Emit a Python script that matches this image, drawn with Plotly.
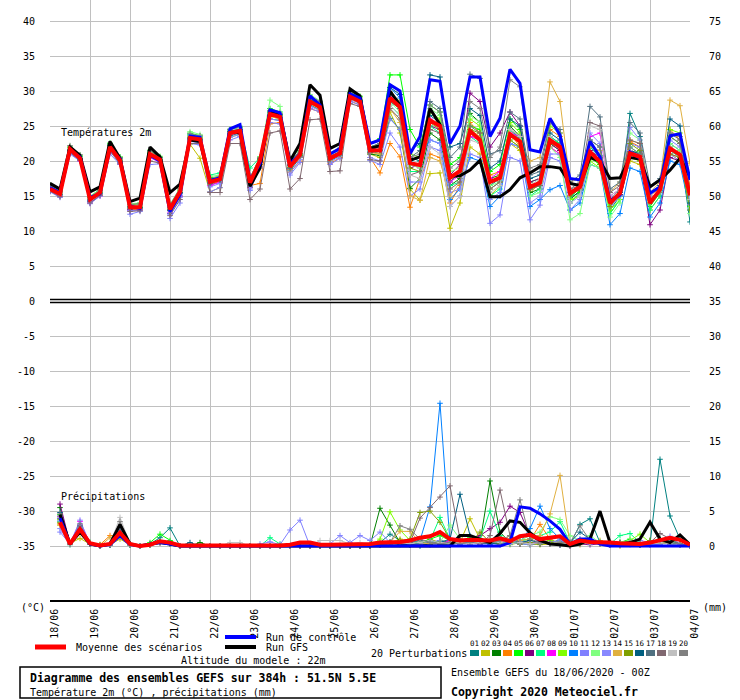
import plotly.graph_objects as go

# time axis (hours since 18/06 00Z), temperature every 6h, precip = 6h totals
HOURS_T = list(range(0, 385, 6))
HOURS_P = list(range(6, 385, 6))
DAY_LABELS = ["18/06", "19/06", "20/06", "21/06", "22/06", "23/06", "24/06", "25/06", "26/06",
              "27/06", "28/06", "29/06", "30/06", "01/07", "02/07", "03/07", "04/07"]

# --- 2m temperature (°C) ---
TEMP_MEAN = [16.0, 15.3, 21.7, 20.4, 14.5, 15.5, 22.0, 20.1, 13.4, 13.4, 21.0, 20.2, 13.1, 15.6, 23.3, 23.1,
             17.0, 17.4, 24.0, 24.3, 16.9, 20.1, 26.7, 26.3, 19.2, 20.9, 28.5, 27.7, 20.4, 21.1, 29.2, 28.5,
             21.5, 21.5, 29.0, 27.7, 19.7, 19.4, 25.8, 25.0, 17.6, 18.6, 24.3, 23.0, 17.0, 17.6, 23.8, 22.8,
             16.3, 16.9, 23.0, 22.0, 15.4, 16.3, 21.3, 19.9, 14.0, 15.4, 21.1, 20.6, 14.0, 15.9, 21.8, 20.9, 15.1]
TEMP_CTRL = [16.2, 15.5, 21.5, 20.6, 14.8, 15.3, 21.8, 20.3, 13.6, 13.2, 20.8, 20.0, 12.8, 15.2, 23.6, 23.4,
             17.2, 17.6, 24.6, 25.2, 17.3, 19.6, 27.3, 26.9, 19.6, 21.0, 29.3, 28.0, 21.0, 21.8, 29.6, 29.0,
             22.5, 23.0, 30.9, 30.0, 21.0, 23.5, 31.6, 31.4, 22.5, 25.0, 32.0, 32.0, 23.5, 26.1, 33.1, 31.1,
             21.6, 21.3, 26.1, 23.7, 17.5, 17.3, 22.8, 20.6, 14.4, 15.1, 21.3, 20.4, 15.4, 16.3, 23.6, 23.9, 17.3]
TEMP_GFS = [16.8, 16.0, 22.0, 20.8, 15.6, 16.3, 22.8, 20.4, 14.2, 14.7, 22.0, 20.6, 15.5, 16.7, 23.0, 22.8,
            17.2, 17.5, 24.2, 24.0, 16.4, 19.0, 27.2, 26.5, 20.0, 22.5, 30.9, 29.4, 21.8, 22.5, 30.3, 29.3,
            21.8, 22.2, 30.0, 28.0, 20.1, 20.6, 27.5, 25.2, 17.8, 17.9, 18.7, 20.1, 14.9, 14.9, 15.9, 17.6,
            18.3, 19.2, 19.2, 19.0, 16.8, 16.5, 20.5, 20.0, 17.5, 17.6, 20.5, 20.3, 16.3, 17.3, 18.7, 20.4, 17.8]

TEMP_P01 = [16.1, 15.2, 21.4, 20.2, 14.2, 15.4, 21.7, 19.8, 13.0, 13.1, 20.6, 20.0, 12.5, 15.0, 23.0, 22.7,
            16.6, 17.0, 23.6, 24.0, 16.4, 19.5, 26.0, 25.8, 18.6, 20.5, 28.0, 27.3, 20.0, 20.8, 28.8, 28.4,
            21.4, 21.6, 29.5, 28.3, 20.5, 20.0, 26.5, 25.5, 17.0, 18.5, 24.5, 23.0, 16.5, 17.5, 24.5, 23.2,
            16.0, 16.5, 23.5, 22.5, 14.8, 15.5, 22.0, 20.5, 13.0, 15.0, 26.8, 23.5, 14.5, 15.8, 22.5, 21.5, 11.3]
TEMP_P02 = [15.8, 15.0, 21.6, 20.5, 14.6, 15.8, 22.3, 20.3, 13.7, 13.9, 21.2, 20.4, 13.3, 15.6, 22.4, 20.4,
            15.6, 16.2, 23.4, 23.8, 16.8, 20.2, 26.4, 26.0, 18.9, 21.0, 28.3, 27.6, 20.3, 21.2, 29.0, 28.2,
            21.0, 20.5, 27.0, 24.0, 16.0, 14.4, 18.2, 18.3, 10.4, 14.0, 22.0, 21.0, 15.0, 16.5, 22.5, 21.5,
            15.5, 16.8, 22.0, 21.0, 15.0, 16.0, 20.5, 19.5, 13.5, 15.0, 20.0, 19.5, 13.0, 15.0, 21.0, 20.0, 14.5]
TEMP_P03 = [16.6, 15.8, 22.0, 20.7, 14.8, 15.5, 22.2, 20.4, 13.6, 13.4, 21.3, 20.5, 13.4, 15.8, 23.6, 23.4,
            17.3, 17.6, 24.3, 24.6, 17.0, 20.4, 27.0, 26.6, 19.5, 21.3, 28.8, 28.0, 20.6, 21.4, 29.6, 28.8,
            21.0, 20.8, 26.1, 24.5, 16.1, 17.5, 24.0, 23.0, 16.5, 17.5, 26.8, 25.5, 17.5, 18.0, 25.0, 23.5,
            15.5, 16.0, 22.5, 21.5, 14.5, 15.8, 20.8, 19.8, 13.5, 15.2, 21.5, 21.0, 14.0, 16.0, 22.0, 21.0, 14.8]
TEMP_P04 = [16.2, 15.6, 21.8, 20.6, 14.4, 15.2, 21.8, 20.0, 13.2, 13.0, 20.8, 20.0, 12.9, 15.4, 23.0, 23.0,
            16.8, 17.0, 23.8, 24.1, 16.5, 16.8, 25.3, 25.5, 18.4, 20.0, 27.5, 27.0, 19.6, 20.5, 28.6, 28.0,
            20.5, 18.3, 22.5, 20.6, 13.4, 17.5, 21.0, 20.5, 14.0, 16.5, 25.5, 24.0, 18.0, 18.5, 24.0, 22.0,
            16.5, 17.0, 24.5, 23.5, 15.5, 16.8, 21.5, 20.0, 14.2, 15.8, 22.8, 22.0, 15.0, 16.2, 24.5, 23.0, 16.5]
TEMP_P05 = [15.9, 15.1, 21.9, 20.8, 14.9, 16.0, 22.5, 20.6, 13.8, 14.0, 21.5, 20.6, 13.5, 16.0, 24.0, 23.6,
            17.6, 17.8, 24.3, 24.8, 17.6, 20.6, 27.5, 27.0, 19.8, 21.5, 29.2, 28.3, 21.0, 21.6, 29.8, 29.2,
            22.5, 23.2, 32.3, 32.3, 24.5, 22.0, 28.0, 27.0, 19.5, 20.5, 25.0, 24.5, 18.5, 19.5, 26.0, 24.5,
            17.0, 17.5, 23.0, 22.5, 14.0, 15.5, 20.5, 19.5, 12.5, 14.5, 21.0, 21.5, 13.5, 15.5, 23.5, 22.5, 13.5]
TEMP_P06 = [16.0, 15.4, 21.5, 20.3, 14.3, 15.6, 22.1, 19.9, 13.1, 13.6, 21.0, 20.1, 13.0, 15.5, 23.4, 23.2,
            16.8, 17.5, 24.1, 24.4, 16.2, 20.0, 26.5, 26.2, 18.8, 21.1, 28.6, 27.8, 20.2, 21.0, 29.5, 28.7,
            21.6, 22.0, 29.0, 27.8, 19.0, 19.5, 25.0, 24.5, 18.0, 19.5, 29.7, 28.5, 22.0, 24.0, 27.0, 25.0,
            17.0, 17.5, 22.5, 21.5, 15.0, 16.0, 21.5, 20.5, 13.8, 15.2, 21.0, 20.0, 10.9, 13.0, 20.5, 20.0, 14.0]
TEMP_P07 = [16.3, 15.5, 21.9, 20.6, 14.7, 15.7, 22.4, 20.5, 13.5, 13.8, 21.4, 20.4, 13.6, 16.0, 23.8, 23.5,
            18.0, 18.3, 24.5, 24.8, 19.0, 20.5, 27.0, 26.5, 19.4, 20.8, 28.3, 27.6, 20.5, 21.3, 29.4, 28.6,
            21.5, 21.0, 28.0, 26.5, 18.5, 18.5, 25.0, 24.0, 16.5, 17.0, 23.5, 22.5, 15.0, 16.0, 24.5, 23.0,
            15.0, 16.0, 23.5, 22.5, 14.5, 16.5, 22.0, 20.8, 12.5, 14.5, 22.0, 21.0, 13.0, 15.0, 21.5, 20.5, 14.0]
TEMP_P08 = [15.7, 15.0, 21.2, 20.0, 14.0, 15.0, 21.6, 19.6, 12.9, 13.0, 20.5, 19.8, 12.6, 15.0, 23.2, 22.8,
            16.5, 17.0, 23.8, 24.0, 16.6, 19.8, 26.8, 26.4, 19.0, 20.6, 28.4, 27.5, 20.4, 21.0, 29.0, 28.3,
            21.2, 21.5, 29.5, 28.0, 19.5, 19.0, 26.0, 25.0, 17.0, 18.0, 23.5, 23.0, 17.5, 18.5, 24.0, 23.5,
            16.5, 17.0, 22.0, 21.0, 15.5, 16.5, 23.5, 24.0, 15.0, 16.0, 21.5, 20.8, 14.5, 16.0, 21.0, 20.5, 15.5]
TEMP_P09 = [16.0, 15.3, 21.8, 20.5, 14.6, 15.6, 22.0, 20.2, 13.5, 13.5, 21.2, 20.3, 13.2, 15.8, 23.5, 23.3,
            17.2, 17.6, 24.2, 24.5, 17.2, 20.3, 26.9, 26.5, 19.3, 21.0, 28.6, 27.9, 20.5, 21.2, 29.3, 28.6,
            21.5, 21.8, 29.8, 28.5, 21.0, 20.5, 27.0, 26.0, 18.0, 18.5, 26.0, 25.0, 17.0, 17.5, 25.5, 24.0,
            16.5, 17.0, 25.0, 24.0, 14.5, 15.0, 20.0, 19.0, 13.0, 14.5, 20.5, 20.0, 14.0, 15.5, 24.5, 24.0, 14.5]
TEMP_P10 = [16.2, 15.4, 21.6, 20.4, 14.4, 15.4, 21.9, 20.0, 13.3, 13.3, 20.9, 20.1, 12.9, 15.3, 23.1, 23.0,
            16.9, 17.3, 23.9, 24.2, 16.8, 19.9, 26.6, 26.2, 19.1, 20.7, 28.4, 27.7, 20.2, 21.0, 29.1, 28.5,
            21.8, 22.0, 30.5, 29.0, 20.0, 20.5, 23.0, 22.5, 14.5, 16.0, 20.5, 20.0, 13.5, 15.0, 22.5, 22.0,
            13.5, 14.5, 15.9, 16.5, 13.0, 14.0, 19.5, 19.0, 10.9, 12.5, 19.0, 18.5, 12.0, 14.0, 20.0, 19.5, 13.0]
TEMP_P11 = [15.6, 14.8, 21.0, 20.0, 13.9, 15.0, 21.0, 19.5, 12.4, 12.8, 19.5, 19.6, 11.8, 14.0, 22.5, 22.3,
            15.6, 16.2, 23.0, 23.5, 15.8, 19.0, 25.5, 25.3, 18.0, 19.8, 27.5, 27.0, 19.5, 20.4, 28.5, 28.0,
            20.1, 19.5, 24.0, 22.0, 15.0, 16.0, 22.0, 21.5, 13.5, 15.0, 21.0, 20.5, 11.1, 12.3, 20.5, 20.0,
            11.6, 13.7, 20.5, 20.0, 13.0, 14.5, 21.0, 20.0, 13.5, 15.0, 22.5, 22.0, 15.0, 16.5, 23.0, 22.0, 15.5]
TEMP_P12 = [16.4, 15.7, 22.1, 20.8, 15.0, 15.9, 22.6, 20.6, 13.9, 14.0, 21.6, 20.7, 13.8, 16.2, 24.2, 23.8,
            17.8, 18.0, 24.6, 25.0, 17.4, 20.6, 28.7, 27.8, 20.2, 21.8, 29.5, 28.6, 21.2, 21.9, 30.0, 29.3,
            22.0, 22.5, 28.5, 27.0, 19.5, 19.0, 27.5, 26.5, 18.5, 19.0, 26.5, 25.5, 16.5, 17.0, 23.0, 22.0,
            15.0, 15.5, 22.0, 20.5, 11.6, 12.5, 19.5, 19.0, 12.0, 14.0, 24.0, 23.0, 14.0, 15.5, 22.5, 21.5, 12.5]
TEMP_P13 = [15.8, 15.1, 21.3, 20.1, 14.1, 15.1, 21.5, 19.7, 12.9, 13.0, 20.6, 19.9, 12.4, 14.8, 22.8, 22.6,
            16.3, 16.8, 23.4, 23.8, 16.0, 19.2, 26.0, 25.8, 18.3, 20.2, 27.8, 27.2, 19.8, 20.7, 28.8, 28.2,
            20.5, 20.0, 26.0, 24.5, 17.0, 17.0, 23.0, 22.5, 15.5, 16.0, 24.0, 23.5, 14.5, 15.5, 22.5, 22.0,
            14.0, 15.0, 21.0, 21.0, 14.0, 15.0, 24.0, 22.5, 13.5, 15.0, 24.8, 23.0, 14.5, 16.0, 21.0, 20.0, 13.8]
TEMP_P14 = [16.0, 15.5, 21.9, 20.5, 14.7, 15.8, 22.2, 20.2, 13.6, 13.7, 21.1, 20.3, 13.3, 15.7, 23.4, 23.3,
            17.1, 17.4, 24.0, 24.2, 17.0, 20.0, 26.4, 26.0, 18.8, 20.6, 28.2, 27.4, 20.1, 20.9, 28.9, 28.3,
            21.2, 21.0, 27.5, 25.5, 15.0, 14.4, 20.5, 20.0, 15.0, 17.0, 24.5, 23.5, 17.0, 18.0, 23.5, 22.5,
            20.0, 20.5, 31.3, 28.5, 17.0, 17.5, 22.0, 21.5, 15.5, 17.0, 23.0, 22.5, 15.5, 17.0, 28.7, 27.9, 19.7]
TEMP_P15 = [16.1, 15.3, 21.7, 20.3, 14.5, 15.5, 22.0, 20.1, 13.4, 13.3, 21.0, 20.2, 13.0, 15.5, 23.2, 23.0,
            16.9, 17.3, 23.9, 24.2, 16.9, 20.2, 26.7, 26.3, 19.1, 20.8, 28.5, 27.6, 20.3, 21.0, 29.2, 28.4,
            21.5, 21.5, 28.5, 27.5, 19.0, 18.5, 25.5, 24.5, 17.5, 18.5, 24.5, 24.0, 16.0, 17.0, 23.0, 22.0,
            16.0, 16.5, 22.5, 22.0, 15.0, 16.0, 20.5, 20.0, 13.5, 15.5, 22.5, 21.5, 14.5, 16.0, 21.0, 20.5, 13.0]
TEMP_P16 = [16.3, 15.6, 21.5, 20.3, 14.6, 15.6, 22.2, 20.3, 13.5, 13.4, 21.0, 20.3, 13.0, 15.5, 23.3, 23.1,
            17.0, 17.4, 24.2, 24.5, 17.0, 20.3, 27.0, 26.6, 19.4, 21.0, 28.6, 27.9, 20.6, 21.4, 29.4, 28.7,
            22.0, 22.5, 30.5, 29.5, 21.5, 22.5, 32.3, 32.0, 22.0, 22.5, 27.5, 26.5, 19.0, 20.0, 26.0, 25.0,
            17.5, 18.0, 24.0, 23.0, 15.5, 16.5, 23.0, 22.0, 14.5, 15.5, 21.5, 21.0, 15.5, 16.5, 26.0, 25.0, 14.0]
TEMP_P17 = [15.9, 15.2, 21.6, 20.4, 14.5, 15.3, 21.9, 20.0, 13.3, 13.2, 20.9, 20.0, 13.0, 15.4, 23.2, 23.0,
            16.8, 17.3, 23.9, 24.3, 16.7, 20.0, 26.5, 26.2, 18.9, 20.7, 28.4, 27.6, 20.2, 21.0, 29.0, 28.4,
            21.2, 21.5, 28.5, 27.5, 20.5, 21.5, 28.5, 27.5, 20.5, 22.0, 32.4, 31.8, 21.0, 21.5, 27.0, 26.0,
            18.0, 18.5, 25.5, 24.5, 17.0, 18.0, 27.8, 26.3, 16.0, 17.0, 25.5, 24.0, 16.5, 17.5, 24.0, 23.0, 15.0]
TEMP_P18 = [15.7, 14.9, 21.2, 20.1, 14.0, 15.1, 21.4, 19.6, 12.8, 12.9, 20.0, 19.7, 12.2, 14.5, 22.5, 22.5,
            15.5, 15.5, 22.5, 22.5, 14.5, 16.0, 24.0, 24.3, 16.0, 17.5, 25.9, 26.0, 18.5, 18.6, 28.2, 27.8,
            20.2, 20.0, 27.5, 26.0, 18.0, 18.5, 24.5, 24.0, 16.0, 17.0, 25.0, 24.0, 16.0, 17.0, 24.5, 23.5,
            16.0, 16.5, 22.5, 22.5, 16.0, 16.5, 25.5, 25.0, 15.5, 16.5, 23.0, 22.5, 14.5, 16.0, 23.5, 22.5, 15.5]
TEMP_P19 = [16.0, 15.4, 21.8, 20.5, 14.6, 15.6, 22.1, 20.3, 13.6, 13.6, 21.3, 20.4, 13.5, 15.9, 23.6, 23.6,
            17.4, 17.8, 24.4, 24.7, 17.5, 20.5, 27.2, 26.8, 19.7, 21.2, 29.0, 28.2, 20.8, 21.5, 29.5, 28.8,
            21.5, 21.8, 28.0, 26.5, 18.0, 17.5, 22.0, 21.0, 13.5, 15.0, 23.0, 22.5, 15.5, 16.5, 24.5, 23.5,
            16.5, 17.5, 23.5, 22.0, 14.0, 15.0, 25.0, 24.5, 15.0, 16.0, 21.5, 20.5, 14.5, 16.0, 22.0, 21.0, 14.5]
TEMP_P20 = [16.5, 15.7, 22.2, 20.9, 14.9, 15.8, 22.4, 20.5, 13.8, 13.9, 21.5, 20.5, 13.7, 16.1, 23.9, 23.6,
            17.5, 17.8, 24.5, 24.9, 17.6, 20.5, 27.2, 26.8, 19.9, 21.5, 29.3, 28.5, 21.0, 21.7, 29.8, 29.0,
            22.0, 22.5, 29.5, 28.5, 20.5, 21.0, 28.0, 27.0, 19.0, 20.0, 28.5, 27.5, 20.5, 22.0, 31.6, 30.6,
            19.0, 19.5, 25.5, 24.0, 16.0, 17.0, 23.0, 22.0, 14.5, 16.0, 22.0, 21.0, 14.0, 15.5, 24.0, 23.5, 16.0]

# --- 6h precipitation (mm) ---
RAIN_MEAN = [3.4, 0.3, 2.4, 0.4, 0.1, 0.3, 1.9, 0.3, 0, 0.2, 0.7, 0.5, 0.1, 0.1, 0.1, 0.1,
             0.1, 0.1, 0.1, 0, 0, 0.1, 0.1, 0.2, 0.5, 0.5, 0.2, 0.2, 0.2, 0.3, 0.3, 0.3,
             0.5, 0.5, 0.6, 0.8, 1.2, 1.4, 2.0, 1.0, 0.8, 0.9, 0.9, 0.8, 1.1, 0.7, 1.4, 1.6,
             1.0, 1.2, 1.4, 0.3, 0.8, 0.6, 0.6, 0.5, 0.4, 0.3, 0.3, 0.5, 0.9, 1.2, 0.9, 0.2]
RAIN_CTRL = [4.0, 0.3, 2.5, 0.3, 0, 0.2, 1.5, 0.2, 0, 0.2, 0.5, 0.3, 0, 0, 0, 0,
             0, 0, 0, 0, 0, 0, 0, 0, 0, 0, 0, 0, 0, 0, 0, 0,
             0, 0, 0, 0, 0, 0, 0, 0, 0, 0, 0, 0, 0, 0.5, 5.6, 5.4,
             4.6, 3.6, 2.4, 0.3, 1.0, 1.0, 0.3, 0, 0, 0, 0, 0, 0, 0, 0, 0]
RAIN_GFS = [4.5, 0.3, 2.0, 0.3, 0, 0.3, 3.1, 0.3, 0, 0.2, 0.5, 0.3, 0, 0, 0, 0,
            0, 0, 0, 0, 0, 0, 0, 0, 0, 0, 0, 0, 0, 0, 0, 0,
            0, 0, 0, 0, 0, 0, 0, 0, 1.5, 1.5, 1.0, 0.5, 1.8, 3.6, 3.4, 1.9,
            0.8, 0.3, 0.2, 0, 0.3, 1.0, 5.0, 0.5, 0.3, 0.5, 1.0, 3.4, 1.0, 0.5, 1.6, 0.2]

RAIN_P01 = [4.0, 0.3, 2.8, 0.3, 0, 0.3, 2.0, 0.2, 0, 0.3, 1.2, 2.6, 0, 0, 0, 0,
            0, 0, 0, 0, 0, 0, 0, 0, 0, 0, 0, 0, 0, 0, 0, 0.3,
            0.5, 1.7, 0.8, 0.2, 0, 0.3, 0.5, 0.2, 0.8, 0.5, 0.3, 0.5, 0.2, 0.5, 0.3, 0.2,
            0.3, 0.5, 0.8, 0.2, 3.1, 3.9, 0.5, 0.3, 0.2, 0.3, 0.2, 0.3, 12.4, 4.3, 1.0, 0]
RAIN_P02 = [3.0, 0.4, 1.1, 0.3, 0, 0.2, 1.0, 0.2, 0, 0.2, 0.5, 0.3, 0, 0, 0, 0,
            0, 0, 0, 0, 0, 0, 0, 0, 0, 0, 0, 0, 0, 0, 0, 0,
            0.2, 0.5, 1.0, 0.5, 0.3, 1.0, 0.5, 0.3, 0.5, 3.9, 1.0, 0.5, 0.3, 0.2, 0.5, 0.3,
            0.2, 0.3, 0.5, 0.2, 0.3, 0.5, 0.8, 0.3, 0, 0.2, 0.3, 0.2, 0.5, 0.3, 0.2, 0]
RAIN_P03 = [5.5, 0.3, 2.5, 0.5, 0.2, 0.2, 2.0, 0.3, 0, 0.2, 0.6, 0.3, 0, 0, 0.5, 0,
            0, 0, 0, 0, 0, 0, 0, 0, 0, 0, 0, 0, 0, 0, 0, 0,
            5.4, 3.0, 0.5, 0.3, 0.2, 0.2, 0.8, 0.5, 0.3, 0.6, 0.5, 9.3, 2.0, 0.5, 0.3, 0.5,
            0.3, 0.5, 0.8, 0.2, 0.3, 0.5, 0.3, 0.2, 0.5, 0.3, 0.2, 0.8, 0.5, 0.3, 0.2, 0]
RAIN_P04 = [3.2, 0.3, 2.2, 0.4, 0.2, 1.5, 1.5, 0.3, 0, 0.2, 0.5, 0.3, 0, 0, 0, 0,
            0, 0, 0, 0, 0, 0, 0, 0, 0, 0, 0, 0, 0, 0, 0, 0,
            0.2, 0.3, 0.5, 0.3, 0.5, 0.8, 0.5, 0.3, 0.5, 1.0, 0.3, 0.5, 0.8, 0.5, 0.5, 0.8,
            3.1, 1.0, 0.3, 0, 0.2, 0.5, 0.3, 0.2, 0.3, 0.5, 0.2, 0.3, 0.5, 0.3, 0.2, 0]
RAIN_P05 = [4.5, 0.2, 3.0, 0.5, 0, 0.3, 2.5, 0.2, 0, 0.5, 1.7, 0.8, 0, 0, 0, 0,
            0, 0, 0, 0, 0, 0, 0, 0, 0, 0, 0, 0, 0, 0, 0, 0,
            0.3, 0.5, 0.2, 0.3, 0.5, 1.0, 1.5, 0.8, 0.5, 1.2, 0.5, 0.8, 0.5, 0.3, 0.8, 1.0,
            1.2, 0.8, 0.5, 0.2, 0.3, 0.5, 0.3, 0.2, 0.5, 1.0, 0.3, 0.5, 1.0, 0.8, 0.3, 0]
RAIN_P06 = [6.0, 0.4, 3.0, 0.3, 0, 0.2, 1.5, 0.3, 0, 0.2, 0.5, 0.3, 0, 0, 0, 0,
            0, 0, 0, 0, 0, 0, 0, 0, 0, 0, 0, 0, 0, 0, 0, 0,
            0.2, 0.3, 0.5, 0.2, 0.3, 0.5, 0.3, 0.2, 0.5, 0.8, 1.5, 2.5, 3.4, 5.7, 4.8, 1.5,
            0.5, 0.3, 0.2, 0, 0.3, 0.2, 0.3, 0.2, 0.2, 0.5, 0.3, 0.2, 0.3, 0.5, 0.2, 0]
RAIN_P07 = [3.5, 0.3, 2.0, 0.3, 0, 0.2, 1.8, 0.2, 0, 0.3, 0.8, 0.5, 0, 0, 0, 0,
            0, 0, 0, 0, 0, 1.2, 0.3, 0, 0, 0, 0, 0, 0, 0, 0, 0,
            0.3, 0.5, 0.3, 0.2, 0.5, 0.8, 4.1, 1.0, 0.5, 0.8, 1.0, 5.0, 1.5, 0.5, 0.8, 1.0,
            1.5, 2.0, 3.5, 0.5, 0.3, 0.8, 0.5, 0.3, 1.5, 1.8, 0.5, 0.3, 0.5, 0.8, 0.3, 0]
RAIN_P08 = [4.2, 0.3, 3.5, 0.4, 0, 0.2, 2.2, 0.3, 0, 0.2, 0.6, 0.3, 0, 0, 0, 0,
            0, 0, 0, 0, 0, 0, 0, 0, 0, 0, 0, 0, 0, 0, 0, 0,
            0.2, 0.3, 0.5, 0.2, 0.3, 0.5, 0.3, 0.8, 1.0, 0.5, 0.3, 0.5, 0.8, 0.5, 0.3, 0.5,
            0.5, 0.8, 0.5, 0.2, 0.3, 0.5, 0.3, 0.2, 0.3, 0.5, 0.2, 0.3, 0.5, 0.3, 0.2, 0]
RAIN_P09 = [3.8, 0.3, 2.5, 0.3, 0, 0.3, 1.8, 0.2, 0, 0.3, 0.7, 0.4, 0, 0, 0, 0,
            0, 0, 0, 0, 0, 0, 0, 0, 0, 0, 0, 0, 0, 0, 0, 0,
            1.0, 4.9, 2.3, 0.8, 0.5, 0.5, 0.3, 0.2, 0.5, 0.3, 0.5, 0.8, 0.5, 0.3, 0.5, 0.3,
            0.5, 0.8, 0.5, 0.2, 0.3, 0.5, 0.3, 0.2, 0.5, 0.8, 1.7, 0.5, 0.3, 0.5, 0.2, 0]
RAIN_P10 = [3.6, 0.3, 2.3, 0.3, 0, 0.2, 1.6, 0.2, 0, 0.3, 0.8, 0.5, 0, 0, 0, 0,
            0, 0, 0, 0, 0, 0, 0, 0, 0, 0, 0, 0, 0, 0, 0, 0,
            0.3, 0.5, 0.3, 0.5, 0.8, 5.6, 20.4, 0.5, 0.3, 0.8, 0.5, 0.3, 0.5, 0.3, 0.5, 2.5,
            5.7, 2.5, 1.0, 0.2, 1.0, 0.5, 0.3, 0.2, 0.3, 0.5, 0.2, 0.3, 0.5, 0.3, 0.2, 0]
RAIN_P11 = [2.0, 0.3, 3.7, 0.3, 0, 0.3, 2.2, 0.2, 0, 0.2, 0.6, 0.3, 0, 0, 0, 0,
            0, 0, 0, 0, 0.3, 0.6, 0.2, 2.3, 3.7, 0, 0.2, 0.3, 1.5, 0.5, 1.5, 0.8,
            2.0, 0.5, 0.3, 0.5, 0.3, 0.5, 0.8, 0.3, 0.5, 0.3, 0.8, 0.5, 0.3, 0.5, 0.8, 0.5,
            0.3, 0.5, 0.8, 0.3, 0.5, 0.3, 0.5, 0.2, 0.3, 0.5, 0.8, 0.5, 0.5, 1.4, 0.3, 0]
RAIN_P12 = [3.3, 0.3, 2.6, 0.4, 0, 0.3, 1.9, 0.3, 0, 0.2, 0.7, 0.3, 0, 0, 0, 0,
            0, 0, 0, 0, 0, 0, 0, 0, 0, 0, 0, 0, 0, 0, 0, 0,
            0.3, 0.5, 0.3, 0.2, 0.5, 0.8, 0.5, 3.0, 1.0, 0.5, 0.3, 1.0, 0.5, 0.3, 0.8, 1.5,
            2.0, 4.2, 3.8, 1.5, 0.8, 1.5, 0.5, 0.3, 0.5, 0.8, 0.5, 0.3, 0.8, 0.5, 0.3, 0]
RAIN_P13 = [2.5, 0.2, 2.0, 0.3, 0, 0.2, 1.5, 0.2, 0, 0.2, 0.5, 0.3, 0, 0, 0, 0,
            0, 0, 0, 0, 0, 0, 0, 0, 0, 0, 0, 0, 0, 0, 0, 0,
            0.2, 0.3, 0.5, 0.3, 0.2, 0.5, 0.3, 0.5, 0.3, 0.5, 0.3, 0.5, 0.8, 0.5, 0.3, 0.2,
            0.5, 0.3, 0.2, 0, 0.3, 0.5, 0.3, 0.2, 0.3, 0.5, 0.3, 0.2, 0.3, 0.5, 0.2, 0]
RAIN_P14 = [3.0, 0.3, 2.1, 0.3, 0, 1.2, 1.8, 0.2, 0, 0.2, 0.5, 0.3, 0, 0, 0, 0,
            0, 0, 0, 0, 0, 0, 0, 0, 0, 0, 0, 0, 0, 0, 0, 0,
            0.3, 0.5, 2.1, 2.1, 0.5, 0.3, 0.5, 0.3, 0.5, 0.3, 0.5, 0.8, 0.5, 1.5, 0.8, 1.0,
            1.5, 4.6, 10.1, 0.2, 0.3, 0.5, 0.3, 0.2, 0.3, 0.5, 0.2, 0.3, 0.5, 0.3, 0.2, 0]
RAIN_P15 = [3.4, 0.3, 2.4, 0.3, 0, 0.2, 1.7, 0.2, 0, 0.2, 0.6, 0.3, 0, 0, 0, 0,
            0, 0, 0, 0, 0, 0, 0, 0, 0, 0, 0, 0, 0, 0, 0, 0,
            0.3, 0.5, 0.8, 1.0, 4.8, 5.0, 3.4, 1.0, 0.5, 0.3, 2.0, 0.5, 0.3, 0.5, 0.3, 0.5,
            0.3, 0.5, 0.3, 0.2, 0.3, 0.5, 0.3, 0.2, 0.5, 0.3, 0.2, 0.8, 0.5, 0.3, 0.2, 0]
RAIN_P16 = [4.8, 0.3, 2.7, 0.4, 0, 0.2, 2.1, 0.3, 0, 0.2, 0.6, 0.3, 0, 0.5, 0, 0,
            0, 0, 0, 0, 0, 0, 0, 0, 0, 0, 0, 0, 0, 0, 0, 0,
            0.3, 0.5, 0.3, 0.2, 0.5, 0.8, 0.5, 1.0, 7.4, 1.5, 0.5, 0.3, 0.5, 0.3, 0.5, 0.8,
            0.5, 0.3, 0.2, 0.5, 2.0, 1.0, 0.5, 0.3, 0.5, 0.3, 0.2, 0.3, 0.8, 0.5, 0.3, 0]
RAIN_P17 = [4.3, 0.3, 2.9, 0.3, 0, 0.3, 2.3, 0.2, 0, 0.3, 0.7, 0.4, 0, 0, 0, 0,
            0, 0, 0, 0, 0, 0, 0, 0, 0, 0, 0, 0, 0, 0, 0, 0,
            0.2, 0.5, 0.3, 0.5, 0.8, 0.5, 0.3, 0.5, 0.8, 0.5, 0.3, 0.5, 0.8, 1.0, 0.5, 0.3,
            0.5, 0.3, 0.2, 0.3, 0.5, 0.8, 0.3, 0.2, 0.3, 0.5, 0.3, 0.5, 1.0, 0.8, 0.3, 0]
RAIN_P18 = [3.9, 0.3, 2.5, 0.3, 0, 0.2, 2.0, 0.3, 0, 0.2, 0.5, 0.3, 0, 0, 0, 0,
            0, 0, 0, 0, 0, 0, 0, 0, 0, 0, 0, 0, 0, 0, 0, 0,
            0.3, 0.5, 0.3, 0.5, 4.0, 5.5, 7.0, 8.6, 1.0, 0.5, 0.3, 1.5, 8.0, 1.5, 0.5, 0.3,
            0.5, 0.3, 0.2, 0.5, 0.3, 0.5, 0.3, 0.2, 0.3, 0.5, 0.3, 0.5, 1.8, 1.0, 0.3, 0]
RAIN_P19 = [3.6, 0.3, 2.6, 0.4, 0, 0.3, 4.1, 0.3, 0, 0.2, 0.5, 0.3, 0, 0, 0, 0,
            0, 0.5, 0.5, 0, 0, 0, 0, 0, 0, 0, 0.8, 0.8, 0.8, 0.3, 0.5, 0.3,
            0.5, 0.3, 0.5, 0.3, 0.5, 0.8, 0.5, 0.3, 0.5, 0.3, 0.5, 0.8, 0.5, 0.3, 0.5, 0.3,
            0.5, 0.3, 0.5, 0.2, 0.3, 0.5, 0.3, 0.2, 0.3, 0.5, 0.3, 0.2, 0.5, 0.3, 0.2, 0]
RAIN_P20 = [4.6, 0.3, 3.2, 0.3, 0, 0.3, 3.5, 0.3, 0, 0.2, 0.6, 0.3, 0, 0, 0, 0,
            0, 0, 0, 0, 0, 0, 0, 0, 0, 0, 0, 0, 0, 0, 0, 0,
            0.3, 0.5, 2.9, 2.4, 1.0, 0.5, 0.3, 0.5, 0.3, 0.5, 0.8, 0.5, 0.8, 1.5, 6.6, 1.0,
            0.5, 0.3, 0.5, 0.5, 2.9, 0.8, 0.5, 0.3, 0.5, 0.3, 0.5, 0.3, 0.8, 0.5, 0.3, 0]

PERT_COLORS = ["#008080", "#c0c000", "#008000", "#ff8000", "#00ff00", "#800080", "#00ff80",
               "#ff00ff", "#80ff00", "#0080ff", "#8080ff", "#80ff80", "#8888ff", "#e0b040",
               "#80a000", "#005f80", "#507080", "#806870", "#c0c0c0", "#808080"]
PERT_LABELS = ["%02d" % k for k in range(1, 21)]

TEMP_PERTS = [TEMP_P01, TEMP_P02, TEMP_P03, TEMP_P04, TEMP_P05, TEMP_P06, TEMP_P07, TEMP_P08, TEMP_P09, TEMP_P10,
              TEMP_P11, TEMP_P12, TEMP_P13, TEMP_P14, TEMP_P15, TEMP_P16, TEMP_P17, TEMP_P18, TEMP_P19, TEMP_P20]
RAIN_PERTS = [RAIN_P01, RAIN_P02, RAIN_P03, RAIN_P04, RAIN_P05, RAIN_P06, RAIN_P07, RAIN_P08, RAIN_P09, RAIN_P10,
              RAIN_P11, RAIN_P12, RAIN_P13, RAIN_P14, RAIN_P15, RAIN_P16, RAIN_P17, RAIN_P18, RAIN_P19, RAIN_P20]

for s in TEMP_PERTS + [TEMP_MEAN, TEMP_CTRL, TEMP_GFS]:
    assert len(s) == len(HOURS_T), len(s)
for s in RAIN_PERTS + [RAIN_MEAN, RAIN_CTRL, RAIN_GFS]:
    assert len(s) == len(HOURS_P), len(s)

FONT = "DejaVu Sans Mono"
W, H = 740, 700
ML, MR, MT, MB = 50, 50, 0, 100


def px(x):
    # pixel -> paper x
    return (x - ML) / (W - ML - MR)


def py(y):
    # pixel -> paper y
    return (H - MB - y) / (H - MT - MB)


fig = go.Figure()

# perturbations (temperature on y, precipitation on y2)
for temp, rain, col in zip(TEMP_PERTS, RAIN_PERTS, PERT_COLORS):
    mk = dict(symbol="cross-thin", size=4, line=dict(width=1, color=col))
    fig.add_trace(go.Scatter(x=HOURS_T, y=temp, mode="lines+markers",
                             line=dict(color=col, width=1), marker=mk))
    fig.add_trace(go.Scatter(x=HOURS_P, y=rain, yaxis="y2", mode="lines+markers",
                             line=dict(color=col, width=1), marker=mk))

# GFS, control, mean
fig.add_trace(go.Scatter(x=HOURS_T, y=TEMP_GFS, mode="lines", line=dict(color="black", width=3)))
fig.add_trace(go.Scatter(x=HOURS_P, y=RAIN_GFS, yaxis="y2", mode="lines", line=dict(color="black", width=3)))
fig.add_trace(go.Scatter(x=HOURS_T, y=TEMP_CTRL, mode="lines", line=dict(color="#0000ff", width=3)))
fig.add_trace(go.Scatter(x=HOURS_P, y=RAIN_CTRL, yaxis="y2", mode="lines", line=dict(color="#0000ff", width=3)))
fig.add_trace(go.Scatter(x=HOURS_T, y=TEMP_MEAN, mode="lines", line=dict(color="#ff0000", width=4)))
fig.add_trace(go.Scatter(x=HOURS_P, y=RAIN_MEAN, yaxis="y2", mode="lines", line=dict(color="#ff0000", width=4)))

# double zero line
for yy in (0.22, -0.22):
    fig.add_shape(type="line", xref="x", yref="y", x0=0, x1=384, y0=yy, y1=yy,
                  line=dict(color="black", width=1.3), layer="above")

# legend samples
fig.add_shape(type="line", xref="paper", yref="paper", x0=px(35), x1=px(66), y0=py(647), y1=py(647),
              line=dict(color="#ff0000", width=5))
fig.add_shape(type="line", xref="paper", yref="paper", x0=px(225), x1=px(256), y0=py(637), y1=py(637),
              line=dict(color="#0000ff", width=4))
fig.add_shape(type="line", xref="paper", yref="paper", x0=px(225), x1=px(256), y0=py(647), y1=py(647),
              line=dict(color="black", width=4))
for k, col in enumerate(PERT_COLORS):
    x0 = 470 + 11 * k
    fig.add_shape(type="rect", xref="paper", yref="paper", x0=px(x0), x1=px(x0 + 9),
                  y0=py(656), y1=py(650), line=dict(width=0), fillcolor=col)
# title box
fig.add_shape(type="rect", xref="paper", yref="paper", x0=px(20), x1=px(441), y0=py(698), y1=py(667),
              line=dict(color="black", width=1.5), fillcolor="white")


def note(text, x, y, size=10, xref="paper", yref="paper", xanchor="left"):
    if xref == "paper":
        x = px(x)
    if yref == "paper":
        y = py(y)
    fig.add_annotation(text=text, x=x, y=y, xref=xref, yref=yref, showarrow=False,
                       xanchor=xanchor, yanchor="middle", borderpad=0,
                       font=dict(family=FONT, size=size, color="black"))


note("Températures 2m", 6, 24.1, xref="x", yref="y")
note("Précipitations", 6, 7.1, xref="x", yref="y2")
note("(°C)", 20, 607)
note("(mm)", 702, 607)
note("Moyenne des scénarios", 75, 647)
note("Run de contrôle", 265, 637)
note("Run GFS", 265, 647)
note("Altitude du modele : 22m", 180, 660)
note("20 Perturbations", 370, 653)
for k, lab in enumerate(PERT_LABELS):
    note(lab, 474.5 + 11 * k, 643, size=7.5, xanchor="center")
note("<b>Diagramme des ensembles GEFS sur 384h : 51.5N 5.5E</b>", 29, 678, size=11.5)
note("Température 2m (°C) , précipitations (mm)", 29, 692)
note("Ensemble GEFS du 18/06/2020 - 00Z", 450, 672)
note("<b>Copyright 2020 Meteociel.fr</b>", 450, 692, size=11.5)

temp_ticks = list(range(-35, 41, 5))
rain_ticks = list(range(0, 76, 5))

fig.update_layout(
    width=W, height=H,
    margin=dict(l=ML, r=MR, t=MT, b=MB),
    template="none",
    paper_bgcolor="white", plot_bgcolor="white",
    showlegend=False, hovermode=False,
    font=dict(family=FONT, size=10, color="black"),
    xaxis=dict(range=[0, 384], tickvals=list(range(0, 385, 24)), ticktext=DAY_LABELS,
               tickangle=-90, ticks="", ticklabelshift=5, ticklabelstandoff=3,
               showgrid=True, gridcolor="#c0c0c0", gridwidth=1, zeroline=False,
               showline=True, linecolor="black", linewidth=1.5,
               tickfont=dict(family=FONT, size=10, color="black")),
    yaxis=dict(range=[-42.7, 43.0], tickvals=temp_ticks, ticktext=[str(v) for v in temp_ticks],
               ticks="", ticklabelstandoff=14, showgrid=True, gridcolor="#c0c0c0", gridwidth=1,
               zeroline=False, showline=False,
               tickfont=dict(family=FONT, size=10, color="black")),
    yaxis2=dict(range=[-7.7, 78.0], overlaying="y", side="right", tickvals=rain_ticks,
                ticktext=[str(v) for v in rain_ticks], ticks="", ticklabelstandoff=18,
                showgrid=False, zeroline=False, showline=False,
                tickfont=dict(family=FONT, size=10, color="black")),
)

# the page's default body margin would shift the whole figure by 8px
fig.write_html("out.html", config={"displayModeBar": False},
               post_script="document.body.style.margin='0';")
